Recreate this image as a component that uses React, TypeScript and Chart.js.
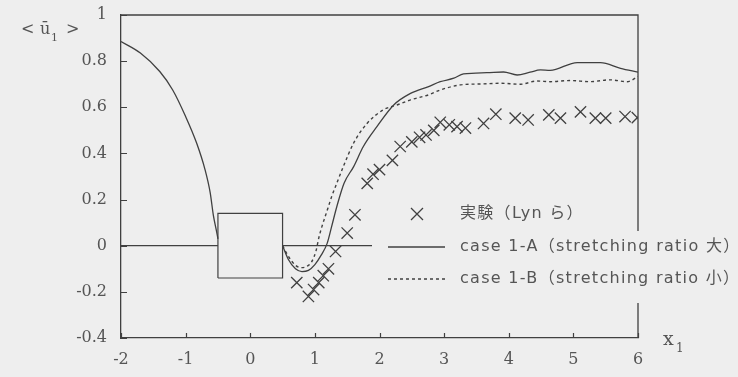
import React, { useEffect, useRef } from "react";
import { Chart, registerables } from "chart.js";

Chart.register(...registerables);

// Mean streamwise velocity <u1> along the centreline, x1 from -2 to 6.

// case 1-A, upstream of the body
const caseAUpX = [-2, -1.7, -1.4, -1.2, -1.0, -0.83, -0.7, -0.62, -0.57, -0.52, -0.5];
const caseAUpY = [0.885, 0.835, 0.755, 0.675, 0.56, 0.445, 0.33, 0.23, 0.13, 0.06, 0.03];

// case 1-A, wake region
const caseAX = [0.5, 0.59, 0.7, 0.8, 0.9, 1.0, 1.1, 1.19, 1.26, 1.34, 1.45, 1.6, 1.75, 1.96, 2.22, 2.48, 2.76, 2.94, 3.15, 3.3, 3.66, 3.92, 4.13, 4.33, 4.49, 4.64, 5.06, 5.42, 5.73, 6.0];
const caseAY = [0, -0.06, -0.1, -0.112, -0.107, -0.082, -0.04, 0.01, 0.084, 0.17, 0.27, 0.343, 0.43, 0.516, 0.61, 0.66, 0.69, 0.711, 0.726, 0.745, 0.75, 0.753, 0.74, 0.752, 0.762, 0.76, 0.794, 0.794, 0.769, 0.752];

// case 1-B, wake region
const caseBX = [0.5, 0.6, 0.7, 0.8, 0.9, 0.95, 1.02, 1.06, 1.11, 1.16, 1.21, 1.26, 1.32, 1.44, 1.6, 1.81, 2.06, 2.27, 2.48, 2.76, 2.94, 3.25, 3.56, 3.87, 4.18, 4.44, 4.64, 4.95, 5.26, 5.57, 5.83, 6.0];
const caseBY = [0, -0.05, -0.085, -0.095, -0.085, -0.07, -0.02, 0.033, 0.084, 0.127, 0.17, 0.213, 0.257, 0.343, 0.445, 0.531, 0.589, 0.61, 0.632, 0.654, 0.675, 0.697, 0.701, 0.704, 0.7, 0.714, 0.711, 0.716, 0.711, 0.719, 0.711, 0.733];

// Experiment (Lyn et al.)
const expX = [0.72, 0.9, 0.98, 1.06, 1.13, 1.21, 1.32, 1.5, 1.62, 1.81, 1.9, 2.0, 2.2, 2.32, 2.5, 2.62, 2.72, 2.84, 2.94, 3.08, 3.2, 3.33, 3.61, 3.8, 4.1, 4.3, 4.62, 4.8, 5.11, 5.34, 5.5, 5.8, 5.99];
const expY = [-0.16, -0.22, -0.19, -0.16, -0.13, -0.1, -0.025, 0.055, 0.134, 0.27, 0.31, 0.33, 0.37, 0.43, 0.45, 0.47, 0.48, 0.5, 0.535, 0.524, 0.516, 0.51, 0.53, 0.57, 0.553, 0.545, 0.567, 0.553, 0.58, 0.553, 0.553, 0.56, 0.555];

// Square cylinder outline and the centreline on either side of it
const bodyX = [-0.5, -0.5, 0.5, 0.5, -0.5];
const bodyY = [-0.14, 0.14, 0.14, -0.14, -0.14];
const axisLineLeftX = [-2, -0.5];
const axisLineRightX = [0.5, 6];

const legendLabels = ["実験（Lyn ら）", "case 1-A（stretching ratio 大）", "case 1-B（stretching ratio 小）"];

const BG = "#eeeeee";
const INK = "#404040";
const TEXT = "#555555";
const SERIF = '"DejaVu Serif", "Liberation Serif", serif';

const pts = (xs: number[], ys: number[]) => xs.map((x, i) => ({ x, y: ys[i] }));

const decor = {
  id: "decor",
  afterDatasetsDraw(chart: any) {
    const { ctx, chartArea: a, scales } = chart;
    const xs = scales.x;
    const ys = scales.y;
    ctx.save();
    ctx.strokeStyle = INK;
    ctx.lineWidth = 1.3;
    // top and right frame
    ctx.beginPath();
    ctx.moveTo(a.left, a.top);
    ctx.lineTo(a.right, a.top);
    ctx.lineTo(a.right, a.bottom);
    ctx.stroke();
    // inward tick marks
    ctx.lineWidth = 1.2;
    ctx.beginPath();
    ys.ticks.forEach((t: any) => {
      const py = Math.round(ys.getPixelForValue(t.value)) + 0.5;
      ctx.moveTo(a.left, py);
      ctx.lineTo(a.left + 6, py);
    });
    xs.ticks.forEach((t: any) => {
      const px = Math.round(xs.getPixelForValue(t.value)) + 0.5;
      ctx.moveTo(px, a.bottom);
      ctx.lineTo(px, a.bottom - 5);
    });
    ctx.stroke();

    // legend
    ctx.fillStyle = BG;
    ctx.fillRect(372, 231, 366, 72);
    const rows = [214, 247, 279];
    ctx.strokeStyle = INK;
    ctx.lineWidth = 1.3;
    ctx.beginPath();
    ctx.moveTo(411, rows[0] - 6);
    ctx.lineTo(423, rows[0] + 6);
    ctx.moveTo(423, rows[0] - 6);
    ctx.lineTo(411, rows[0] + 6);
    ctx.stroke();
    ctx.beginPath();
    ctx.moveTo(388, rows[1]);
    ctx.lineTo(445, rows[1]);
    ctx.stroke();
    ctx.setLineDash([3, 3]);
    ctx.beginPath();
    ctx.moveTo(388, rows[2]);
    ctx.lineTo(445, rows[2]);
    ctx.stroke();
    ctx.setLineDash([]);
    ctx.fillStyle = TEXT;
    ctx.font = '16px "DejaVu Sans", "Noto Sans CJK JP", sans-serif';
    (ctx as any).letterSpacing = "1.3px";
    ctx.textBaseline = "middle";
    ctx.textAlign = "left";
    legendLabels.forEach((s, i) => ctx.fillText(s, 460, rows[i]));
    (ctx as any).letterSpacing = "0px";

    // axis titles
    ctx.font = "16px " + SERIF;
    ctx.fillText("<", 21, 30);
    ctx.fillText("ū", 40, 30);
    ctx.fillText(">", 66, 30);
    ctx.font = "11px " + SERIF;
    ctx.fillText("1", 51, 38);
    ctx.font = "19px " + SERIF;
    ctx.fillText("x", 663, 340);
    ctx.font = "12px " + SERIF;
    ctx.fillText("1", 676, 349);
    ctx.restore();
  },
};

export default function App() {
  const ref = useRef<HTMLCanvasElement | null>(null);

  useEffect(() => {
    if (!ref.current) return;
    const line = (data: any[], extra: any = {}) => ({
      data,
      showLine: true,
      pointRadius: 0,
      borderColor: INK,
      borderWidth: 1.3,
      fill: false,
      ...extra,
    });
    const tickFont = { family: SERIF, size: 16 };
    const chart = new Chart(ref.current, {
      type: "scatter",
      data: {
        datasets: [
          line(pts(axisLineLeftX, [0, 0]), { borderWidth: 1.2 }),
          line(pts(axisLineRightX, [0, 0]), { borderWidth: 1.2 }),
          line(pts(bodyX, bodyY), { borderWidth: 1.2 }),
          line(pts(caseAUpX, caseAUpY), { cubicInterpolationMode: "monotone" }),
          line(pts(caseAX, caseAY), { cubicInterpolationMode: "monotone" }),
          line(pts(caseBX, caseBY), { cubicInterpolationMode: "monotone", borderDash: [3, 3], borderWidth: 1.4 }),
          {
            data: pts(expX, expY),
            showLine: false,
            pointStyle: "crossRot",
            pointRadius: 8,
            borderColor: INK,
            backgroundColor: INK,
            borderWidth: 1.3,
          },
        ],
      },
      options: {
        animation: false,
        responsive: false,
        events: [],
        layout: { padding: { top: 15, right: 100, bottom: 0, left: 0 } },
        plugins: { legend: { display: false }, tooltip: { enabled: false } },
        scales: {
          x: {
            type: "linear",
            min: -2,
            max: 6,
            afterFit: (s: any) => {
              s.height = 39;
              s.paddingLeft = 0;
              s.paddingRight = 0;
            },
            grid: { display: false, drawTicks: false },
            border: { display: true, color: INK, width: 1.3 },
            ticks: {
              stepSize: 1,
              padding: 12,
              color: TEXT,
              font: tickFont,
              callback: (v: any) => String(Number(v)),
            },
          },
          y: {
            type: "linear",
            min: -0.4,
            max: 1,
            afterFit: (s: any) => {
              s.width = 121;
              s.paddingTop = 0;
              s.paddingBottom = 0;
            },
            grid: { display: false, drawTicks: false },
            border: { display: true, color: INK, width: 1.3 },
            ticks: {
              stepSize: 0.2,
              padding: 14,
              color: TEXT,
              font: tickFont,
              callback: (v: any) => String(Number(Number(v).toFixed(1))),
            },
          },
        },
      },
      plugins: [decor],
    });
    return () => chart.destroy();
  }, []);

  return (
    <div style={{ position: "fixed", left: 0, top: 0, width: 738, height: 377, background: BG }}>
      <canvas ref={ref} width={738} height={377} style={{ display: "block" }} />
    </div>
  );
}
